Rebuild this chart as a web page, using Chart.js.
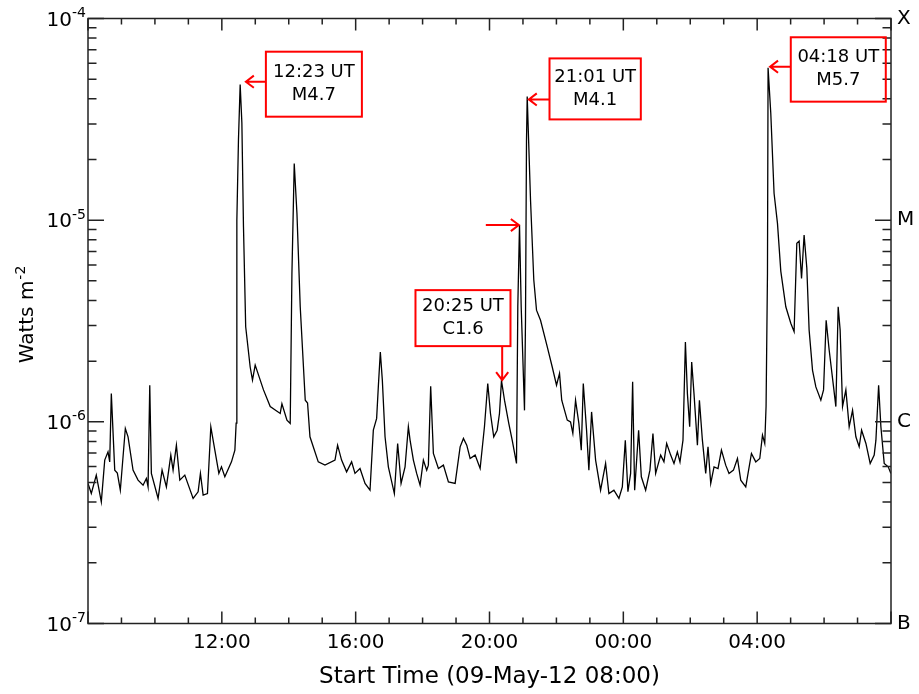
<!DOCTYPE html>
<html><head><meta charset="utf-8">
<script src="https://cdn.jsdelivr.net/npm/chart.js@4.4.1/dist/chart.umd.min.js"></script>
<style>html,body{margin:0;padding:0;background:#fff;} canvas{display:block;}</style>
</head><body>
<canvas id="c" width="919" height="694"></canvas>
<script>
// ---- data (hours since 09-May-12 08:00, GOES flux in W m^-2) ----
const hoursSinceStart = [
0,0.099,0.248,0.398,0.500,0.598,0.649,0.697,0.799,0.877,0.966,1.116,1.197,1.346,1.496,1.646,1.744,1.795,1.846,1.894,
2.095,2.214,2.343,2.475,2.543,2.642,2.744,2.893,3.142,3.291,3.360,3.441,3.570,3.671,3.791,3.911,3.989,4.090,4.288,4.390,
4.428,4.449,4.497,4.548,4.599,4.647,4.713,4.847,4.916,4.997,5.245,5.446,5.745,5.796,5.946,6.044,6.095,6.164,6.245,6.343,
6.493,6.562,6.634,6.882,7.083,7.382,7.460,7.579,7.729,7.879,7.980,8.130,8.280,8.429,8.528,8.627,8.677,8.737,8.797,8.878,
8.977,9.156,9.255,9.357,9.476,9.575,9.626,9.725,9.823,9.925,10.024,10.123,10.173,10.242,10.323,10.473,10.622,10.772,10.973,11.122,
11.221,11.320,11.421,11.571,11.720,11.849,11.948,12.029,12.127,12.229,12.298,12.358,12.448,12.576,12.678,12.807,12.846,12.897,12.947,13.046,
13.076,13.106,13.127,13.226,13.324,13.405,13.525,13.725,13.875,14.003,14.093,14.159,14.324,14.422,14.491,14.572,14.671,14.743,14.803,14.901,
14.970,15.051,15.171,15.320,15.470,15.569,15.718,15.868,15.970,16.059,16.137,16.218,16.278,16.338,16.457,16.538,16.667,16.795,16.885,16.966,
17.116,17.214,17.295,17.415,17.514,17.615,17.693,17.783,17.855,17.915,17.983,18.043,18.112,18.214,18.274,18.363,18.462,18.531,18.612,18.711,
18.830,18.932,19.060,19.159,19.291,19.411,19.509,19.659,19.829,19.958,20.078,20.159,20.227,20.266,20.308,20.326,20.407,20.505,20.607,20.706,
20.856,21.005,21.104,21.185,21.254,21.326,21.403,21.484,21.553,21.655,21.754,21.903,21.984,22.062,22.152,22.283,22.352,22.421,22.480,22.552,
22.651,22.750,22.851,22.950,23.049,23.121,23.250,23.378,23.498,23.549,23.630,23.698,23.797,23.917,23.997
];
const fluxWm2 = [
4.95e-7,4.41e-7,5.44e-7,4.01e-7,6.46e-7,7.10e-7,6.33e-7,1.38e-6,5.76e-7,5.57e-7,4.58e-7,9.27e-7,8.43e-7,5.76e-7,5.14e-7,4.85e-7,5.24e-7,4.76e-7,1.52e-6,5.55e-7,
4.17e-7,5.76e-7,4.76e-7,6.84e-7,5.76e-7,7.66e-7,5.14e-7,5.44e-7,4.17e-7,4.50e-7,5.55e-7,4.33e-7,4.41e-7,9.45e-7,7.24e-7,5.55e-7,5.98e-7,5.34e-7,6.33e-7,7.24e-7,
9.85e-7,1.0e-5,2.50e-5,4.7e-5,3.03e-5,9.27e-6,2.96e-6,1.87e-6,1.61e-6,1.91e-6,1.44e-6,1.19e-6,1.10e-6,1.23e-6,1.02e-6,9.82e-7,5.45e-6,1.91e-5,1.08e-5,3.72e-6,
1.28e-6,1.24e-6,8.43e-7,6.33e-7,6.10e-7,6.46e-7,7.66e-7,6.46e-7,5.65e-7,6.33e-7,5.55e-7,5.87e-7,4.95e-7,4.58e-7,9.09e-7,1.04e-6,1.49e-6,2.22e-6,1.61e-6,8.43e-7,
5.98e-7,4.41e-7,7.81e-7,4.95e-7,5.98e-7,9.45e-7,8.11e-7,6.46e-7,5.55e-7,4.85e-7,6.46e-7,5.76e-7,6.10e-7,1.50e-6,6.97e-7,5.87e-7,6.10e-7,5.04e-7,4.95e-7,7.52e-7,
8.27e-7,7.66e-7,6.58e-7,6.84e-7,5.87e-7,9.45e-7,1.55e-6,1.10e-6,8.43e-7,9.09e-7,1.10e-6,1.6e-6,1.28e-6,9.82e-7,8.11e-7,6.22e-7,3.72e-6,9.46e-6,3.72e-6,1.14e-6,
3.19e-6,2.50e-5,4.1e-5,1.26e-5,5.05e-6,3.58e-6,3.19e-6,2.36e-6,1.87e-6,1.52e-6,1.74e-6,1.28e-6,1.02e-6,1.0e-6,8.76e-7,1.28e-6,9.82e-7,7.24e-7,1.55e-6,9.09e-7,
5.76e-7,1.12e-6,6.46e-7,4.58e-7,6.22e-7,4.41e-7,4.58e-7,4.17e-7,4.76e-7,8.11e-7,4.50e-7,5.55e-7,1.58e-6,4.58e-7,9.09e-7,5.34e-7,4.58e-7,5.76e-7,8.76e-7,5.55e-7,
6.84e-7,6.33e-7,7.81e-7,6.84e-7,6.22e-7,7.10e-7,6.33e-7,8.11e-7,2.49e-6,1.38e-6,9.45e-7,1.98e-6,1.38e-6,7.66e-7,1.28e-6,8.11e-7,5.55e-7,7.52e-7,4.95e-7,5.98e-7,
5.87e-7,7.24e-7,6.10e-7,5.55e-7,5.76e-7,6.58e-7,5.14e-7,4.76e-7,6.97e-7,6.33e-7,6.58e-7,8.59e-7,7.81e-7,1.19e-6,5.45e-6,5.7e-5,3.39e-5,1.36e-5,9.64e-6,5.59e-6,
3.72e-6,3.08e-6,2.80e-6,7.67e-6,7.87e-6,5.14e-6,8.43e-6,5.79e-6,2.85e-6,1.80e-6,1.49e-6,1.28e-6,1.44e-6,3.19e-6,2.27e-6,1.49e-6,1.19e-6,3.72e-6,2.85e-6,1.19e-6,
1.44e-6,9.45e-7,1.14e-6,8.43e-7,7.52e-7,9.09e-7,7.81e-7,6.22e-7,6.84e-7,8.11e-7,1.52e-6,9.45e-7,6.22e-7,5.98e-7,5.55e-7
];
const timeTickHours = [4, 8, 12, 16, 20];
const timeTickLabels = ['12:00', '16:00', '20:00', '00:00', '04:00'];
const decadeValues = [1e-7, 1e-6, 1e-5, 1e-4];
const decadeExponents = ['-7', '-6', '-5', '-4'];
const goesClassLabels = ['B', 'C', 'M', 'X'];
// flare annotations: arrow tip location (hours, flux) and text
const flareTipHours = [4.719, 13.175, 12.876, 12.379, 20.386];
const flareTipFlux = [4.86e-5, 3.97e-5, 9.46e-6, 1.61e-6, 5.77e-5];
const flareText = [['12:23 UT', 'M4.7'], ['21:01 UT', 'M4.1'], [], ['20:25 UT', 'C1.6'], ['04:18 UT', 'M5.7']];

// ---- annotation layout (pixel offsets from the arrow tip) ----
const annotLayout = [
  {from: [20, 0], box: [20, -30, 96, 65]},
  {from: [20.7, 0], box: [20.7, -41, 91.3, 61]},
  {from: [-33, 0], box: null},
  {from: [0, -34], box: [-86.7, -90, 95, 56]},
  {from: [20.7, 0], box: [20.7, -29.4, 95, 64.4]}
];

const FONT = '"DejaVu Sans", sans-serif';
Chart.defaults.font.family = FONT;
Chart.defaults.color = '#000';

const points = hoursSinceStart.map((h, i) => ({x: h, y: fluxWm2[i]}));

const framePlugin = {
  id: 'frame',
  beforeDraw(chart) {
    const ctx = chart.ctx;
    ctx.save();
    ctx.fillStyle = '#fff';
    ctx.fillRect(0, 0, chart.width, chart.height);
    ctx.restore();
  },
  afterDraw(chart) {
    const ctx = chart.ctx;
    const {left, right, top, bottom} = chart.chartArea;
    const x = chart.scales.x, y = chart.scales.y;
    ctx.save();
    ctx.strokeStyle = '#222';
    ctx.lineWidth = 1.5;
    ctx.strokeRect(left, top, right - left, bottom - top);
    ctx.beginPath();
    for (let h = 0; h <= 24; h++) {
      const px = x.getPixelForValue(h);
      const len = h % 4 === 0 ? 12 : 6;
      ctx.moveTo(px, bottom); ctx.lineTo(px, bottom - len);
      ctx.moveTo(px, top); ctx.lineTo(px, top + len);
    }
    for (let e = -7; e <= -4; e++) {
      for (let m = 1; m <= 9; m++) {
        const v = m * Math.pow(10, e);
        if (v > 1.0001e-4) break;
        const py = y.getPixelForValue(v);
        const len = m === 1 ? 16 : 8.5;
        ctx.moveTo(left, py); ctx.lineTo(left + len, py);
        ctx.moveTo(right, py); ctx.lineTo(right - len, py);
      }
    }
    ctx.stroke();

    // left tick labels 10^n
    ctx.fillStyle = '#000';
    decadeValues.forEach((v, i) => {
      const py = y.getPixelForValue(v);
      ctx.font = '20px ' + FONT;
      ctx.textAlign = 'right'; ctx.textBaseline = 'middle';
      ctx.fillText('10', 72, py + 2);
      ctx.font = '14px ' + FONT;
      ctx.textAlign = 'left';
      ctx.fillText(decadeExponents[i], 72, py - 5);
    });

    // y title
    ctx.save();
    ctx.translate(28, 315);
    ctx.rotate(-Math.PI / 2);
    ctx.font = '20px ' + FONT;
    const w1 = ctx.measureText('Watts m').width;
    ctx.font = '14px ' + FONT;
    const w2 = ctx.measureText('-2').width;
    const start = -(w1 + w2) / 2;
    ctx.font = '20px ' + FONT;
    ctx.textAlign = 'left'; ctx.textBaseline = 'middle';
    ctx.fillText('Watts m', start, 0);
    ctx.font = '14px ' + FONT;
    ctx.fillText('-2', start + w1 + 1, -7);
    ctx.restore();

    // annotations
    flareTipHours.forEach((h, i) => {
      const tx = x.getPixelForValue(h);
      const ty = y.getPixelForValue(flareTipFlux[i]);
      const L = annotLayout[i];
      const fx = tx + L.from[0], fy = ty + L.from[1];
      ctx.strokeStyle = '#ff0000';
      ctx.lineWidth = 2;
      ctx.beginPath();
      ctx.moveTo(fx, fy); ctx.lineTo(tx, ty);
      const ang = Math.atan2(fy - ty, fx - tx);
      const hl = 10, hw = 0.65;
      ctx.moveTo(tx + hl * Math.cos(ang + hw), ty + hl * Math.sin(ang + hw));
      ctx.lineTo(tx, ty);
      ctx.lineTo(tx + hl * Math.cos(ang - hw), ty + hl * Math.sin(ang - hw));
      ctx.stroke();
      if (L.box) {
        const bx = tx + L.box[0], by = ty + L.box[1], bw = L.box[2], bh = L.box[3];
        ctx.strokeRect(bx, by, bw, bh);
        ctx.fillStyle = '#000';
        ctx.font = '18px ' + FONT;
        ctx.textAlign = 'center'; ctx.textBaseline = 'middle';
        const cx = bx + bw / 2, cy = by + bh / 2;
        ctx.fillText(flareText[i][0], cx, cy - 12);
        ctx.fillText(flareText[i][1], cx, cy + 11);
      }
    });
    ctx.restore();
  }
};

new Chart(document.getElementById('c'), {
  type: 'line',
  data: {
    datasets: [{
      data: points,
      borderColor: '#000',
      borderWidth: 1.3,
      pointRadius: 0,
      tension: 0,
      fill: false
    }]
  },
  options: {
    responsive: false,
    animation: false,
    devicePixelRatio: 1,
    layout: {padding: {top: 18.5, left: 0, right: 0, bottom: 0}},
    plugins: {legend: {display: false}, tooltip: {enabled: false}},
    scales: {
      x: {
        type: 'linear', min: 0, max: 24,
        grid: {display: false, drawTicks: false},
        border: {display: false},
        afterBuildTicks: s => { s.ticks = timeTickHours.map(v => ({value: v})); },
        afterFit: s => { s.height = 70.5; },
        ticks: {
          font: {size: 20, family: FONT}, color: '#000', padding: 7, maxRotation: 0, autoSkip: false,
          callback: v => { const i = timeTickHours.indexOf(v); return i >= 0 ? timeTickLabels[i] : ''; }
        },
        title: {display: true, text: 'Start Time (09-May-12 08:00)', font: {size: 23, family: FONT}, color: '#000', padding: {top: 0, bottom: 3}}
      },
      y: {
        type: 'logarithmic', min: 1e-7, max: 1e-4, position: 'left',
        grid: {display: false, drawTicks: false},
        border: {display: false},
        afterBuildTicks: s => { s.ticks = decadeValues.map(v => ({value: v})); },
        afterFit: s => { s.width = 88; },
        ticks: {display: false}
      },
      y2: {
        type: 'logarithmic', min: 1e-7, max: 1e-4, position: 'right',
        grid: {display: false, drawTicks: false},
        border: {display: false},
        afterBuildTicks: s => { s.ticks = decadeValues.map(v => ({value: v})); },
        afterFit: s => { s.width = 28; },
        ticks: {
          font: {size: 20, family: FONT}, color: '#000', padding: 6, autoSkip: false,
          callback: v => { const i = decadeValues.findIndex(d => Math.abs(d - v) / d < 1e-6); return i >= 0 ? goesClassLabels[i] : ''; }
        }
      }
    }
  },
  plugins: [framePlugin]
});
</script>
</body></html>
